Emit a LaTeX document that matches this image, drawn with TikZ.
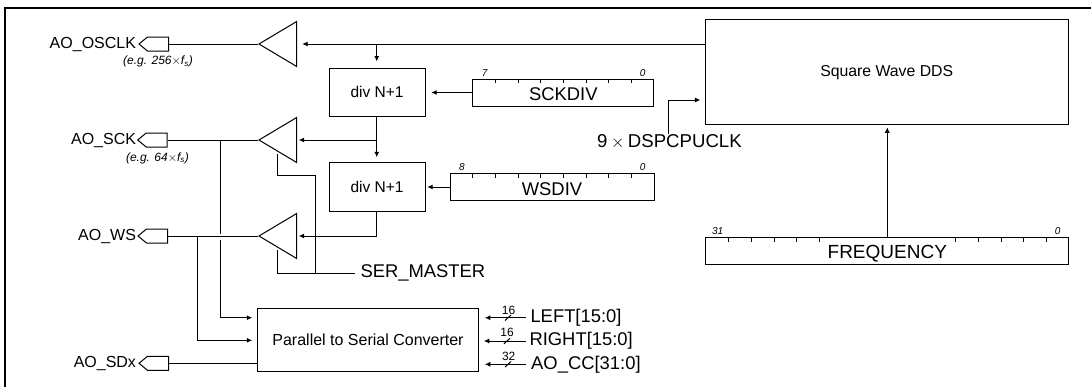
\documentclass[tikz,border=0pt]{standalone}
\usepackage{fontspec}
\setmainfont{Liberation Sans}
\usetikzlibrary{positioning,calc,arrows.meta,shapes.geometric,shapes.symbols}

\begin{document}
\begin{tikzpicture}[x=1pt,y=-1pt,font=\fontsize{16}{18}\selectfont,line width=1pt,
  box/.style={draw,rectangle,inner sep=0pt},
  buffer/.style={draw,isosceles triangle,isosceles triangle apex angle=61.6,isosceles triangle stretches,
    shape border rotate=180,minimum width=45,minimum height=37.7,inner sep=0pt,anchor=apex},
  pin/.style={draw,signal,signal to=west,signal pointer angle=79,minimum width=29.5,minimum height=14,inner sep=0pt,anchor=east},
  sig/.style={-{Latex[length=5.5pt,width=5pt]},shorten >=5pt},
  regname/.style={font=\fontsize{18.4}{20}\selectfont,inner sep=0pt},
  bitnum/.style={font=\itshape\fontsize{10}{12}\selectfont,inner sep=0pt},
  note/.style={font=\itshape\fontsize{12}{14}\selectfont,inner sep=0pt},
  width/.style={font=\fontsize{12}{14}\selectfont,inner sep=0pt},
  pinname/.style={anchor=east,inner sep=0pt}]
\useasboundingbox (0,0) rectangle (1091,386);
\draw[line width=2pt] (5,400) -- (5,8) -- (1100,8);
\node[box,minimum width=96,minimum height=48] (divsck) at (377,92) {\fontsize{15.5}{17}\selectfont div N+1};
\node[box,minimum width=96,minimum height=48.5] (divws) at (377,187) {\fontsize{15.5}{17}\selectfont div N+1};
\node[box,minimum width=220.5,minimum height=63] (ptos) at (368,339.5) {Parallel to Serial Converter};
\node[box,minimum width=362.7,minimum height=105.3] (dds) at (887.3,71.7) {};
\node[inner sep=0pt,font=\fontsize{15.8}{18}\selectfont] (ddsname) at (886.7,73) {Square Wave DDS};
\node[box,minimum width=181.3,minimum height=27] (sckdiv) at (563.3,92.5) {};
\node[box,minimum width=204,minimum height=26.5] (wsdiv) at (552,187) {};
\node[box,minimum width=362.7,minimum height=26.5] (freq) at (887.3,251) {};
\node[regname] (sckname) at (563.3,94) {SCKDIV};
\node[regname] (wsname) at (552,189) {WSDIV};
\node[regname,font=\fontsize{19}{21}\selectfont] (freqname) at (887.3,254) {FREQUENCY};
\node[buffer] (bufosclk) at (258,44) {};
\node[buffer] (bufsck) at (258,140) {};
\node[buffer] (bufws) at (258,236) {};
\node[pin] (pinosclk) at (169,44) {};
\node[pin] (pinsck) at (167.7,140) {};
\node[pin] (pinws) at (168,236) {};
\node[pin] (pinsdx) at (169,363.3) {};
\node[pinname] (lblosclk) at (136.5,44.5) {AO\_OSCLK};
\node[pinname] (lblsck) at (136.5,140) {AO\_SCK};
\node[pinname] (lblws) at (136.5,236) {AO\_WS};
\node[pinname] (lblsdx) at (136.5,363.3) {AO\_SDx};
\node[note] (noteosclk) at (158,61.5) {(e.g. 256$\times$\textit{f}$_{\mathit{s}}$)};
\node[note] (notesck) at (157.5,158) {(e.g. 64$\times$\textit{f}$_{\mathit{s}}$)};
\node[regname,anchor=west] (master) at (360,273) {SER\_MASTER};
\node[anchor=west,inner sep=0pt,font=\fontsize{18.6}{20}\selectfont] (clk) at (596.7,141.5) {9\hspace{3.5pt}$\times$\hspace{3.5pt}DSPCPUCLK};
\node[regname,anchor=west] (left) at (530,317.7) {LEFT[15:0]};
\node[regname,anchor=west] (right) at (529,341) {RIGHT[15:0]};
\node[regname,anchor=west] (aocc) at (530.7,364.3) {AO\_CC[31:0]};
\node[width] (wleft) at (508.5,310) {16};
\node[width] (wright) at (507,332.7) {16};
\node[width] (waocc) at (508.7,356) {32};
\node[bitnum] (sckhi) at (484.7,73) {7};
\node[bitnum] (scklo) at (642.7,73) {0};
\node[bitnum] (wshi) at (462,167.3) {8};
\node[bitnum] (wslo) at (642.7,167.3) {0};
\node[bitnum] (freqhi) at (717.7,231) {31};
\node[bitnum] (freqlo) at (1057.7,231) {0};
\coordinate (juncsck) at (220.7,140);
\coordinate (juncws) at (197.7,236);
\coordinate (juncosclk) at (376.7,44);
\coordinate (juncdiv) at (376.7,140);
\coordinate (juncen) at (315.3,273);
\coordinate (ensck) at (277.3,154);
\coordinate (enws) at (277.3,250);
\draw[sig] (dds.west |- bufosclk.east) -- (bufosclk.east);
\draw (pinosclk.east) -- (bufosclk.apex);
\draw (pinsck.east) -- (bufsck.apex);
\draw (pinws.east) -- (bufws.apex);
\draw (pinsdx.east) -- (pinsdx.east -| ptos.west);
\draw[sig,shorten >=6pt] (juncosclk) -- (juncosclk |- divsck.north);
\draw[sig] (divsck.south -| juncdiv) -- (juncdiv |- divws.north);
\draw[sig,shorten >=1.5pt] (juncdiv) -- (bufsck.east);
\draw[sig,shorten >=1.5pt] (divws.south -| juncdiv) |- (bufws.east);
\draw[sig,shorten >=5.7pt] (sckdiv.west) -- (divsck.east |- sckdiv.west);
\draw[sig,shorten >=1.7pt] (wsdiv.west) -- (divws.east |- wsdiv.west);
\draw[sig,shorten >=2.4pt] (freq.north -| dds.south) -- (dds.south);
\draw[sig] (clk.north -| 668.3,0) |- (dds.west |- 0,100);
\draw (ensck) |- (315.3,175.7) -- (juncen);
\draw[shorten >=5pt] (enws) |- (master.west);
\draw (juncsck) -- (220.7,234);
\draw[sig] (220.7,240) |- (ptos.west |- 0,317.7);
\draw[sig] (juncws) |- (ptos.west |- 0,340.3);
\draw[sig,shorten >=6pt,shorten <=4pt] (left.west) -- (ptos.east |- left.west);
\draw[sig,shorten >=5pt,shorten <=3pt] (right.west) -- (ptos.east |- right.west);
\draw[sig,shorten >=6pt,shorten <=4.7pt] (aocc.west) -- (ptos.east |- aocc.west);
\draw (505,320.5) -- (511,315);
\draw (504,343.8) -- (510,338.3);
\draw (505,367) -- (511,361.5);
\draw (495.4,79) -- (495.4,83);
\draw (518,79) -- (518,83);
\draw (540.7,79) -- (540.7,83);
\draw (563.4,79) -- (563.4,83);
\draw (586,79) -- (586,83);
\draw (608.7,79) -- (608.7,83);
\draw (631.3,79) -- (631.3,83);
\draw (472.7,173.7) -- (472.7,177.7);
\draw (495.4,173.7) -- (495.4,177.7);
\draw (518,173.7) -- (518,177.7);
\draw (540.7,173.7) -- (540.7,177.7);
\draw (563.4,173.7) -- (563.4,177.7);
\draw (586,173.7) -- (586,177.7);
\draw (608.7,173.7) -- (608.7,177.7);
\draw (631.3,173.7) -- (631.3,177.7);
\draw (728.7,237.7) -- (728.7,241.7);
\draw (751.3,237.7) -- (751.3,241.7);
\draw (774,237.7) -- (774,241.7);
\draw (796.7,237.7) -- (796.7,241.7);
\draw (819.3,237.7) -- (819.3,241.7);
\draw (955.7,237.7) -- (955.7,241.7);
\draw (978.3,237.7) -- (978.3,241.7);
\draw (1001,237.7) -- (1001,241.7);
\draw (1023.7,237.7) -- (1023.7,241.7);
\draw (1046.3,237.7) -- (1046.3,241.7);
\end{tikzpicture}
\end{document}
